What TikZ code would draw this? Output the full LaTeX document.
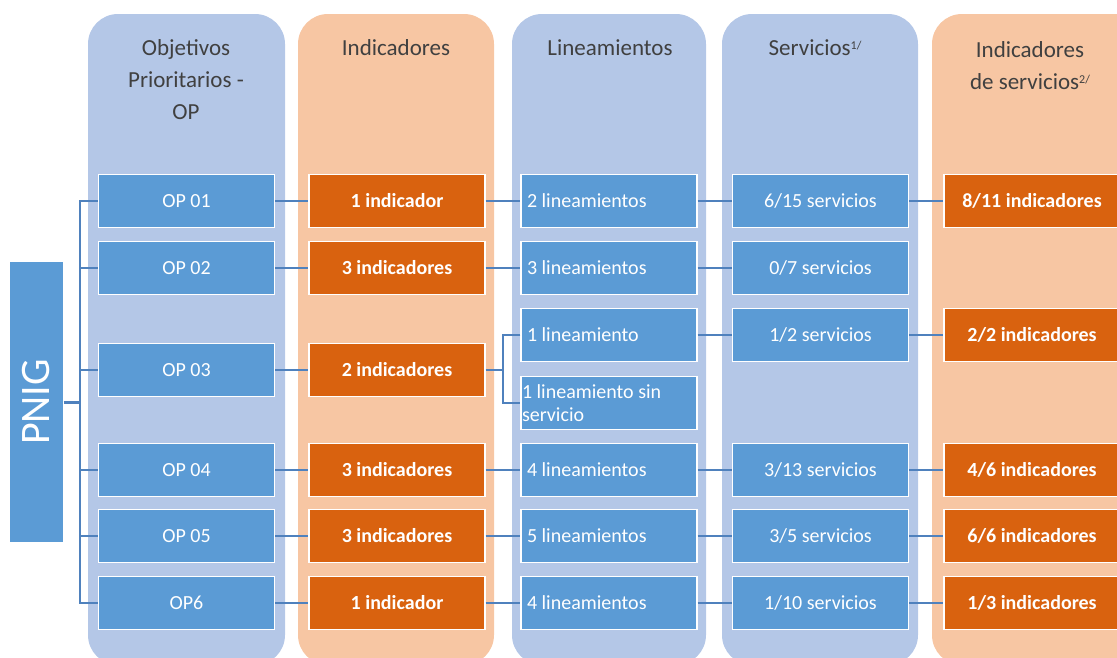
\documentclass[tikz,border=0pt]{standalone}
\usepackage{fontspec}
\setmainfont{Carlito}
\usetikzlibrary{positioning}

\definecolor{colblue}{HTML}{B4C7E7}
\definecolor{colorange}{HTML}{F7C6A3}
\definecolor{boxblue}{HTML}{5B9BD5}
\definecolor{boxorange}{HTML}{D9620F}
\definecolor{linkblue}{HTML}{4F81BD}
\definecolor{headgray}{HTML}{404040}

\newcommand{\smallsup}[1]{\raisebox{6pt}{\fontsize{12}{12}\selectfont #1}}

\tikzset{
  column/.style={rounded corners=30pt},
  head/.style={text=headgray, align=center, font=\fontsize{23}{32}\selectfont},
  bluebox/.style={draw=white, line width=1.2pt, fill=boxblue, text=white,
    minimum width=176pt, minimum height=53pt, inner sep=0pt,
    font=\fontsize{20}{23}\selectfont},
  orangebox/.style={bluebox, fill=boxorange, font=\fontsize{20}{23}\selectfont\bfseries},
  linebox/.style={bluebox, text width=164pt, align=flush left},
  link/.style={linkblue, line width=1.6pt},
}

\begin{document}
\begin{tikzpicture}[x=1pt, y=-1pt]
\useasboundingbox (0,0) rectangle (1117,657);
\clip (0,0) rectangle (1117,657);

% column backgrounds
\path[column, fill=colblue] (88,14) rectangle (285,665);
\path[column, fill=colorange] (298,14) rectangle (494,665);
\path[column, fill=colblue] (512,14) rectangle (706,665);
\path[column, fill=colblue] (722,14) rectangle (918,665);
\path[column, fill=colorange] (932,14) rectangle (1150,665);

% headers
\node[head] (hop) at (186,80) {Objetivos\\Prioritarios -\\OP};
\node[head] (hind) at (396,48) {Indicadores};
\node[head] (hlin) at (610,48) {Lineamientos};
\node[head] (hser) at (815,48) {Servicios\smallsup{1/}};
\node[head] (hisr) at (1030,66) {Indicadores\\de servicios\smallsup{2/}};

% PNIG
\node[bluebox, rotate=90, minimum width=280pt, minimum height=53pt, draw=none,
  font=\fontsize{42}{46}\selectfont] (pnig) at (36.5,402) {PNIG};

% row 1
\node[bluebox] (op1) at (186.5,201) {OP 01};
\node[orangebox] (ind1) at (397,201) {1 indicador};
\node[linebox] (lin1) at (609,201) {2 lineamientos};
\node[bluebox] (ser1) at (820.5,201) {6/15 servicios};
\node[orangebox] (isr1) at (1032,201) {8/11 indicadores};

% row 2
\node[bluebox] (op2) at (186.5,268) {OP 02};
\node[orangebox] (ind2) at (397,268) {3 indicadores};
\node[linebox] (lin2) at (609,268) {3 lineamientos};
\node[bluebox] (ser2) at (820.5,268) {0/7 servicios};

% row 3
\node[bluebox] (op3) at (186.5,370) {OP 03};
\node[orangebox] (ind3) at (397,370) {2 indicadores};
\node[linebox] (lin3a) at (609,335) {1 lineamiento};
\node[linebox, text width=174pt] (lin3b) at (609,403) {1 lineamiento sin\\servicio};
\node[bluebox] (ser3) at (820.5,335) {1/2 servicios};
\node[orangebox] (isr3) at (1032,335) {2/2 indicadores};

% row 4
\node[bluebox] (op4) at (186.5,470) {OP 04};
\node[orangebox] (ind4) at (397,470) {3 indicadores};
\node[linebox] (lin4) at (609,470) {4 lineamientos};
\node[bluebox] (ser4) at (820.5,470) {3/13 servicios};
\node[orangebox] (isr4) at (1032,470) {4/6 indicadores};

% row 5
\node[bluebox] (op5) at (186.5,536) {OP 05};
\node[orangebox] (ind5) at (397,536) {3 indicadores};
\node[linebox] (lin5) at (609,536) {5 lineamientos};
\node[bluebox] (ser5) at (820.5,536) {3/5 servicios};
\node[orangebox] (isr5) at (1032,536) {6/6 indicadores};

% row 6
\node[bluebox] (op6) at (186.5,603) {OP6};
\node[orangebox] (ind6) at (397,603) {1 indicador};
\node[linebox] (lin6) at (609,603) {4 lineamientos};
\node[bluebox] (ser6) at (820.5,603) {1/10 servicios};
\node[orangebox] (isr6) at (1032,603) {1/3 indicadores};

% tree from PNIG
\coordinate (trunk) at (80,402);
\draw[link, line width=3pt] (pnig) -- (trunk);
\draw[link] (op1.west) -| (trunk) |- (op6.west);
\draw[link] (trunk |- op2) -- (op2.west);
\draw[link] (trunk |- op3) -- (op3.west);
\draw[link] (trunk |- op4) -- (op4.west);
\draw[link] (trunk |- op5) -- (op5.west);

% split of OP 03
\coordinate (fork) at (503,370);
\draw[link] (ind3) -- (fork);
\draw[link] (lin3a.west) -| (fork) |- (lin3b.west);

% row links
\draw[link] (op1) -- (ind1);
\draw[link] (ind1) -- (lin1);
\draw[link] (lin1) -- (ser1);
\draw[link] (ser1) -- (isr1);
\draw[link] (op2) -- (ind2);
\draw[link] (ind2) -- (lin2);
\draw[link] (lin2) -- (ser2);
\draw[link] (op3) -- (ind3);
\draw[link] (lin3a) -- (ser3);
\draw[link] (ser3) -- (isr3);
\draw[link] (op4) -- (ind4);
\draw[link] (ind4) -- (lin4);
\draw[link] (lin4) -- (ser4);
\draw[link] (ser4) -- (isr4);
\draw[link] (op5) -- (ind5);
\draw[link] (ind5) -- (lin5);
\draw[link] (lin5) -- (ser5);
\draw[link] (ser5) -- (isr5);
\draw[link] (op6) -- (ind6);
\draw[link] (ind6) -- (lin6);
\draw[link] (lin6) -- (ser6);
\draw[link] (ser6) -- (isr6);
\end{tikzpicture}
\end{document}
